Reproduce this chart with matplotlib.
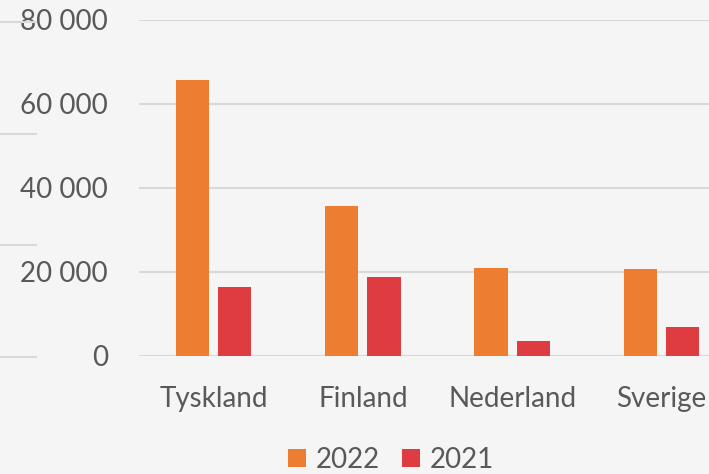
import numpy as np
import matplotlib.pyplot as plt
from matplotlib.lines import Line2D
from matplotlib.ticker import FuncFormatter

# data
lander = ["Tyskland", "Finland", "Nederland", "Sverige"]
verdier_2022 = [65700, 35600, 21000, 20600]
verdier_2021 = [16400, 18800, 3500, 6800]
y_ticks = [0, 20000, 40000, 60000, 80000]

bg = "#f5f5f5"
grid_col = "#d9d9d9"
text_col = "#595959"
oransje = "#ed7d31"
rod = "#de3c40"

plt.rcParams['font.family'] = ['Lato', 'DejaVu Sans']

fig = plt.figure(figsize=(7.09, 4.74), dpi=100, facecolor=bg)
# axes runs past the right edge, like the cropped original
ax = fig.add_axes([139 / 709, 118 / 474, 597 / 709, 336 / 474])
ax.set_facecolor(bg)

x = np.arange(len(lander))
w = 0.223
ax.bar(x - w / 2 - 0.03, verdier_2022, w, color=oransje, label="2022", zorder=3)
ax.bar(x + w / 2 + 0.03, verdier_2021, w, color=rod, label="2021", zorder=3)

ax.set_xlim(-0.5, len(lander) - 0.5)
ax.set_ylim(0, 80000)
ax.set_yticks(y_ticks)
ax.yaxis.set_major_formatter(FuncFormatter(lambda v, p: f"{int(v):,}".replace(",", " ")))
ax.set_xticks(x)
ax.set_xticklabels(lander)
ax.tick_params(axis='y', length=0, pad=22.3, labelsize=20, labelcolor=text_col)
ax.tick_params(axis='x', length=0, pad=21.5, labelsize=20, labelcolor=text_col)
ax.grid(axis='y', color=grid_col, linewidth=1.5, zorder=0)
for s in ax.spines.values():
    s.set_visible(False)

# faint grid fragments at the left edge of the original picture
for yy in [22, 134, 245, 357]:
    fig.add_artist(Line2D([0, 36 / 709], [1 - yy / 474] * 2, color=grid_col,
                          linewidth=1.5, transform=fig.transFigure))

fig.legend(loc='center', bbox_to_anchor=(0.552, 0.03), ncol=2, frameon=False,
           fontsize=20, labelcolor=text_col, handlelength=0.65, handleheight=0.65,
           handletextpad=0.35, columnspacing=0.8)

fig.savefig("out.png", dpi=100, facecolor=bg)
